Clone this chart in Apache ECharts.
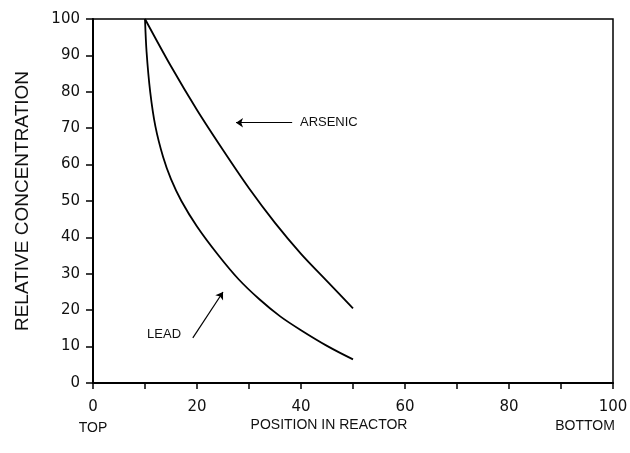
<!DOCTYPE html>
<html>
<head>
<meta charset="utf-8">
<script src="https://cdn.jsdelivr.net/npm/echarts@6/dist/echarts.min.js"></script>
<style>
  html, body { margin: 0; background: #fff; }
  #chart { width: 630px; height: 453px; }
</style>
</head>
<body>
<div id="chart"></div>
<script>
// values
const arsenicPos = [10, 15, 20, 25, 30, 35, 40, 45, 50]
const arsenic = [100, 87, 75, 64, 53.5, 44, 35.5, 28, 20.5]
const leadPos = [10, 10.3, 11, 12, 13.5, 15, 17, 20, 24, 28, 32, 36, 40, 45, 50]
const lead = [100, 91, 80, 70.5, 62, 56, 50, 43, 35.3, 28.5, 23, 18.3, 14.5, 10.2, 6.5]
const xLabels = [0, 20, 40, 60, 80, 100]

// annotation anchors (data units)
const arsenicArrow = [[38.3, 71.5], [27.5, 71.5]]
const leadArrow = [[19.2, 12.4], [25, 25]]
const arsenicText = [39.8, 71.5]
const leadText = [10.4, 13.4]

const font = 'Liberation Sans'
const numFont = 'DejaVu Sans'

const pairs = (xs, ys) => xs.map((x, i) => [x, ys[i]])

const chart = echarts.init(document.getElementById('chart'))

function arrow(pts) {
  return {
    silent: true,
    animation: false,
    symbol: ['none', 'arrow'],
    symbolSize: 7,
    label: { show: false },
    lineStyle: { color: '#000', width: 1.2, type: 'solid' },
    data: [[{ coord: pts[0] }, { coord: pts[1] }]]
  }
}

function note(coord, text) {
  return {
    silent: true,
    animation: false,
    symbolSize: 0,
    data: [{
      coord: coord,
      label: {
        show: true,
        position: 'right',
        distance: 0,
        formatter: text,
        color: '#111',
        fontFamily: font,
        fontSize: 13
      }
    }]
  }
}

chart.setOption({
  animation: false,
  backgroundColor: '#fff',
  grid: {
    left: 93,
    right: 17,
    top: 19,
    bottom: 70,
    outerBoundsMode: 'none',
    show: true,
    borderColor: '#000',
    borderWidth: 1.5
  },
  xAxis: {
    type: 'value',
    min: 0,
    max: 100,
    interval: 10,
    name: 'POSITION IN REACTOR',
    nameLocation: 'middle',
    nameGap: 35,
    nameMoveOverlap: false,
    nameTextStyle: { color: '#111', fontFamily: font, fontSize: 14, padding: [0, 48, 0, 0] },
    axisLine: { lineStyle: { color: '#000', width: 2 } },
    axisTick: { length: 6, lineStyle: { color: '#000', width: 1.5 } },
    splitLine: { show: false },
    axisLabel: {
      margin: 14,
      color: '#111',
      fontFamily: numFont,
      fontSize: 15,
      lineHeight: 21,
      formatter: v => {
        if (xLabels.indexOf(v) < 0) return ''
        if (v === 0) return '0\n{s|TOP}'
        if (v === 100) return '100\n{b|BOTTOM}'
        return String(v)
      },
      rich: {
        s: { fontFamily: font, fontSize: 14, color: '#111', lineHeight: 21 },
        b: { fontFamily: font, fontSize: 14, color: '#111', lineHeight: 17, padding: [0, 56, 0, 0] }
      }
    }
  },
  yAxis: {
    type: 'value',
    min: 0,
    max: 100,
    interval: 10,
    name: 'RELATIVE CONCENTRATION',
    nameLocation: 'middle',
    nameGap: 61,
    nameTextStyle: { color: '#111', fontFamily: font, fontSize: 19 },
    axisLine: { show: true, lineStyle: { color: '#000', width: 2 } },
    axisTick: { show: true, length: 7, lineStyle: { color: '#000', width: 1.5 } },
    splitLine: { show: false },
    axisLabel: { margin: 13, color: '#111', fontFamily: numFont, fontSize: 15 }
  },
  series: [
    {
      name: 'ARSENIC',
      type: 'line',
      data: pairs(arsenicPos, arsenic),
      smooth: 0.3,
      showSymbol: false,
      lineStyle: { color: '#000', width: 1.8 },
      markLine: arrow(arsenicArrow),
      markPoint: note(arsenicText, 'ARSENIC')
    },
    {
      name: 'LEAD',
      type: 'line',
      data: pairs(leadPos, lead),
      smooth: 0.3,
      showSymbol: false,
      lineStyle: { color: '#000', width: 1.8 },
      markLine: arrow(leadArrow),
      markPoint: note(leadText, 'LEAD')
    }
  ]
})
</script>
</body>
</html>
